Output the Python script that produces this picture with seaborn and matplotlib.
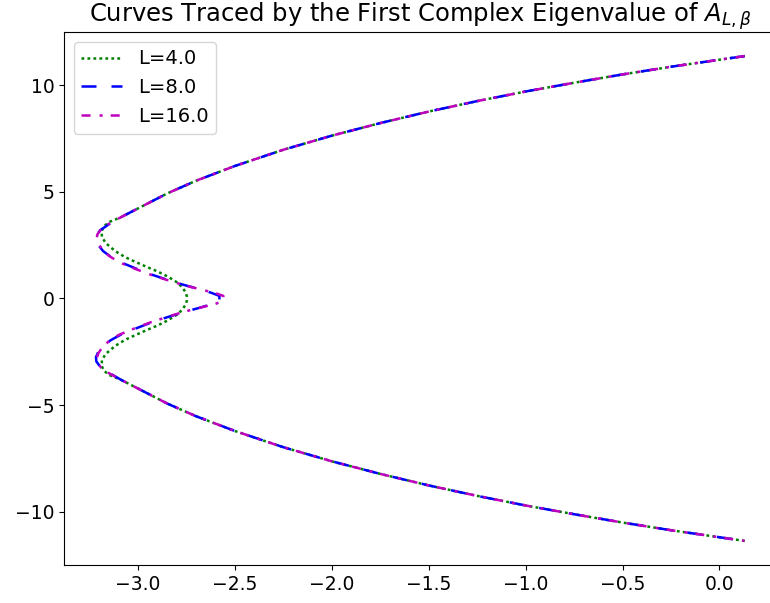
import numpy as np
import pandas as pd
import matplotlib
matplotlib.use("Agg")
import matplotlib.pyplot as plt
import seaborn as sns

# upper half of each curve (the lower half is the complex conjugate)
# shared outer part, from the right end down towards the turning point
outer_re = [0.13, -0.25, -0.50, -0.75, -1.00, -1.25, -1.50, -1.75, -2.00,
            -2.25, -2.50, -2.70, -2.85, -3.00]
outer_im = [11.36, 10.86, 10.50, 10.11, 9.70, 9.25, 8.76, 8.22, 7.63,
            6.97, 6.21, 5.52, 4.92, 4.22]

# inner part of each curve, from the turning point to the tip near the real axis
l4_re = [-3.09, -3.145, -3.175, -3.188, -3.186, -3.167, -3.119, -3.067, -3.012,
         -2.955, -2.90, -2.847, -2.792, -2.766, -2.752, -2.748]
l4_im = [3.80, 3.60, 3.40, 3.15, 2.88, 2.60, 2.23, 1.94, 1.71,
         1.48, 1.27, 1.03, 0.72, 0.45, 0.25, 0.08]

l8_re = [-3.09, -3.15, -3.195, -3.215, -3.217, -3.205, -3.18, -3.14, -3.09,
         -3.01, -2.93, -2.85, -2.765, -2.68, -2.62, -2.58]
l8_im = [3.80, 3.48, 3.20, 2.95, 2.75, 2.50, 2.22, 1.95, 1.70,
         1.40, 1.12, 0.88, 0.64, 0.43, 0.26, 0.12]

l16_re = [-3.09, -3.15, -3.19, -3.21, -3.213, -3.205, -3.185, -3.15, -3.10,
          -3.015, -2.93, -2.844, -2.758, -2.67, -2.60, -2.56]
l16_im = [3.80, 3.50, 3.25, 3.00, 2.80, 2.57, 2.30, 2.00, 1.71,
          1.39, 1.10, 0.85, 0.61, 0.41, 0.25, 0.12]

labels = ["L=4.0", "L=8.0", "L=16.0"]
colors = ["g", "b", "m"]


def full_curve(inner_re, inner_im):
    re = np.array(outer_re + inner_re)
    im = np.array(outer_im + inner_im)
    # upper half out-to-tip, then the conjugate back out
    return np.concatenate([re, re[::-1]]), np.concatenate([im, -im[::-1]])


frames = []
for lab, (r, i) in zip(labels, [(l4_re, l4_im), (l8_re, l8_im), (l16_re, l16_im)]):
    x, y = full_curve(r, i)
    frames.append(pd.DataFrame({"re": x, "im": y, "L": lab}))
df = pd.concat(frames, ignore_index=True)

plt.rcParams["lines.scale_dashes"] = False
plt.rcParams["font.family"] = ["DejaVu Sans"]

fig = plt.figure(figsize=(7.7, 6.03), dpi=100)
ax = fig.add_axes([0.0831, 0.063, 0.926, 0.884])

dash_styles = [(2.0, 2.3), (10.8, 10.8), (6.5, 6.5, 2.2, 5.8)]
for lab, col, dsh in zip(labels, colors, dash_styles):
    sns.lineplot(data=df[df["L"] == lab], x="re", y="im", sort=False,
                 estimator=None, color=col, linewidth=1.8, ax=ax, legend=False)
    ax.lines[-1].set_dashes(dsh)

ax.set_xlim(-3.382, 0.297)
ax.set_ylim(-12.49, 12.49)
ax.set_xlabel("")
ax.set_ylabel("")
ax.set_xticks([-3.0, -2.5, -2.0, -1.5, -1.0, -0.5, 0.0])
ax.set_yticks([-10, -5, 0, 5, 10])
ax.tick_params(labelsize=13.5)
ax.set_title(r"Curves Traced by the First Complex Eigenvalue of $A_{L,\beta}$",
             fontsize=17.5, pad=5)
ax.legend(ax.lines, labels, loc="upper left", fontsize=14, handlelength=2.1)

fig.savefig("out.png", dpi=100)
